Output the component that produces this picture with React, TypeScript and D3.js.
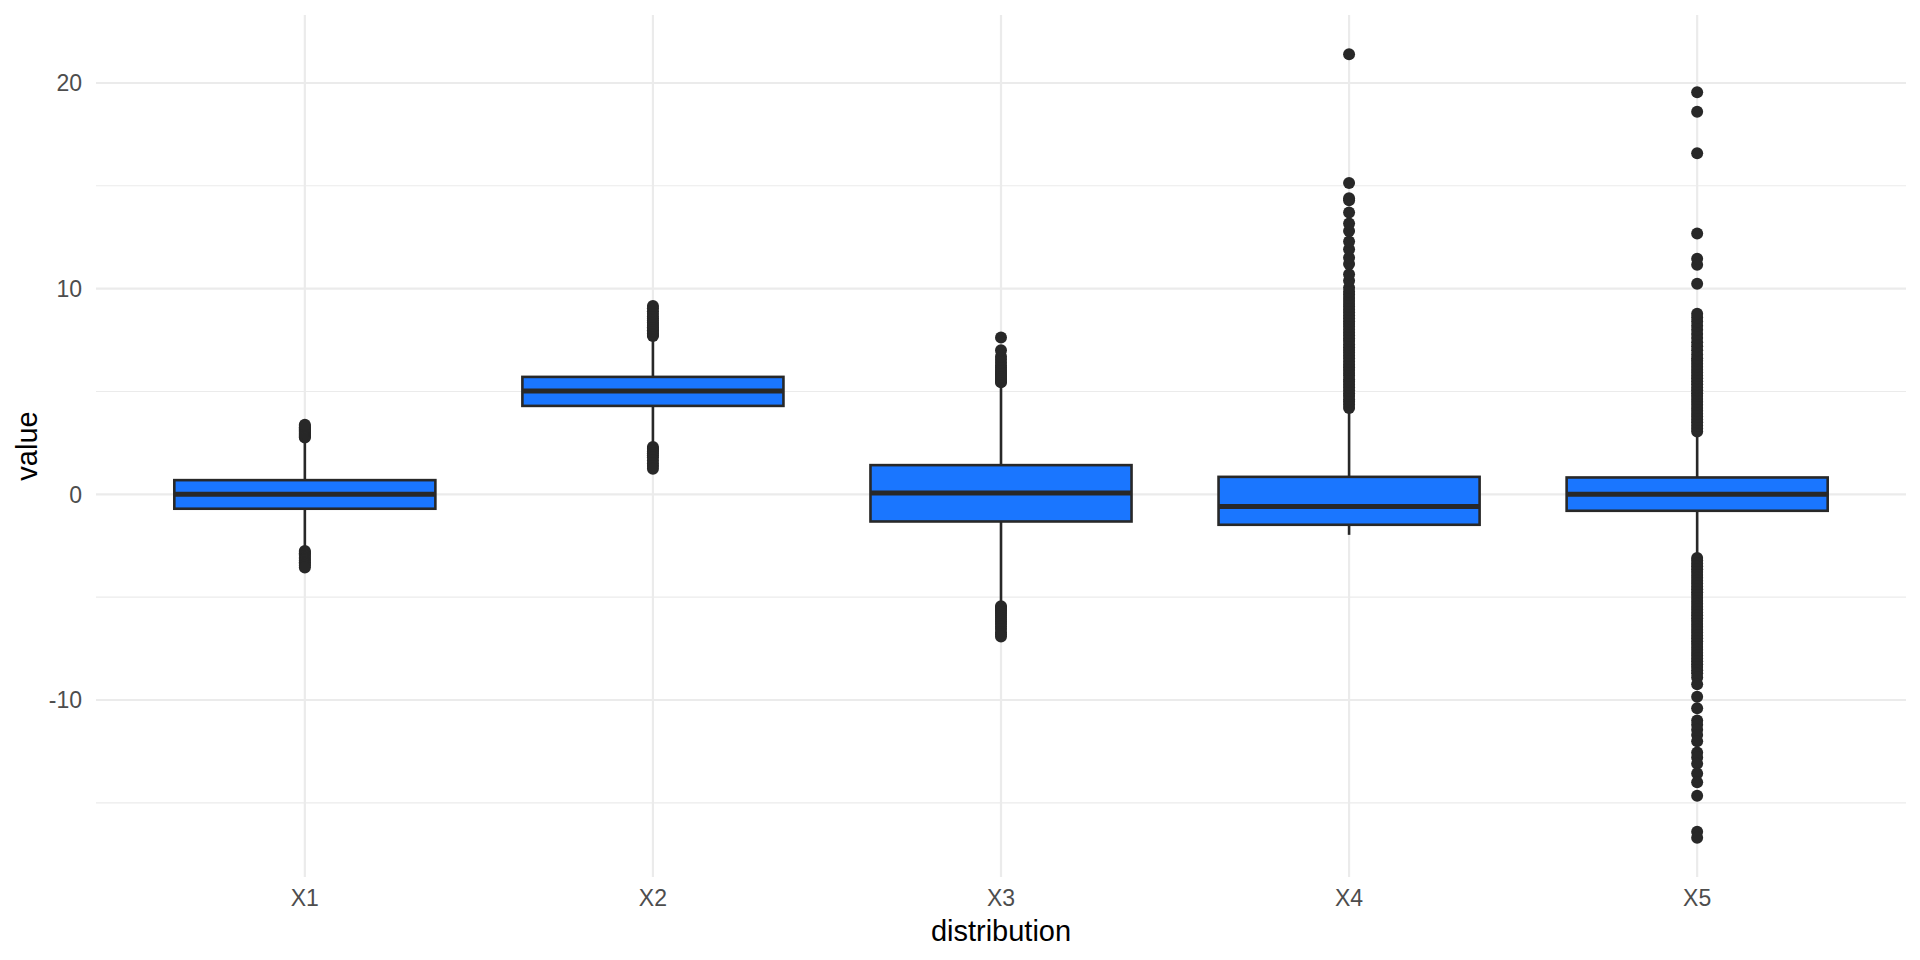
import React, { useEffect, useRef } from 'react';
import * as d3 from 'd3';

// box statistics
const categories = ['X1', 'X2', 'X3', 'X4', 'X5'];
const q1 = [-0.7, 4.3, -1.32, -1.48, -0.8];
const median = [0.01, 5.03, 0.06, -0.59, 0.01];
const q3 = [0.69, 5.71, 1.42, 0.85, 0.82];
const whiskerLow = [-2.7, 2.4, -5.4, -1.97, -3.05];
const whiskerHigh = [2.7, 7.6, 5.4, 4.15, 3.0];

const outliersX1 = [
  2.76, 2.8, 2.85, 2.9, 2.95, 3.0, 3.05, 3.1, 3.15, 3.2, 3.26, 3.32, 3.38,
  -2.75, -2.8, -2.86, -2.92, -3.0, -3.08, -3.15, -3.22, -3.3, -3.38, -3.46, -3.56,
];
const outliersX2 = [
  7.7, 7.75, 7.82, 7.9, 7.98, 8.05, 8.12, 8.2, 8.28, 8.36, 8.45, 8.55, 8.65, 8.78, 8.9, 9.05, 9.16,
  2.3, 2.22, 2.15, 2.08, 2.0, 1.9, 1.8, 1.65, 1.5, 1.38, 1.24,
];
const outliersX3 = [
  5.45, 5.5, 5.58, 5.65, 5.72, 5.8, 5.88, 5.95, 6.05, 6.15, 6.25, 6.4, 6.55, 6.7, 7.0, 7.62,
  -5.44, -5.5, -5.58, -5.65, -5.72, -5.8, -5.9, -6.0, -6.1, -6.2, -6.3, -6.42, -6.55, -6.7, -6.8, -6.91,
];
const outliersX4 = [
  4.2, 4.35, 4.5, 4.62, 4.78, 4.9, 5.05, 5.2, 5.33, 5.47, 5.6, 5.76, 5.9, 6.04, 6.18, 6.3,
  6.45, 6.6, 6.74, 6.88, 7.02, 7.15, 7.3, 7.45, 7.58, 7.72, 7.86, 8.0, 8.15, 8.28, 8.42,
  8.56, 8.7, 8.84, 8.98, 9.12, 9.26, 9.4, 9.55, 9.7, 9.85, 10.05, 10.38, 10.7, 11.2, 11.5,
  11.92, 12.29, 12.8, 13.17, 13.7, 14.3, 14.4, 15.14, 21.4,
];
const outliersX5 = [
  3.05, 3.2, 3.35, 3.5, 3.64, 3.78, 3.92, 4.06, 4.2, 4.35, 4.5, 4.64, 4.78, 4.92, 5.06,
  5.2, 5.35, 5.5, 5.64, 5.78, 5.92, 6.06, 6.2, 6.35, 6.5, 6.62, 6.8, 7.0, 7.2, 7.4, 7.6,
  7.8, 8.0, 8.2, 8.4, 8.6, 8.78, 10.24, 11.16, 11.46, 12.68, 16.58, 18.6, 19.55,
  -3.09, -3.22, -3.36, -3.5, -3.64, -3.78, -3.92, -4.06, -4.2, -4.34, -4.48, -4.62, -4.76,
  -4.9, -5.04, -5.18, -5.32, -5.46, -5.6, -5.74, -5.88, -6.02, -6.16, -6.3, -6.44, -6.58,
  -6.72, -6.86, -7.0, -7.14, -7.28, -7.42, -7.56, -7.7, -7.84, -7.98, -8.12, -8.26, -8.4,
  -8.55, -8.7, -8.9, -9.23, -9.84, -10.4, -11.0, -11.2, -11.45, -11.7, -12.0, -12.55,
  -12.8, -13.1, -13.57, -14.0, -14.66, -16.4, -16.7,
];
const outliers = [outliersX1, outliersX2, outliersX3, outliersX4, outliersX5];

const yTicks = [-10, 0, 10, 20];
const yMinorTicks = [-15, -5, 5, 15];

const BoxChart = () => {
  const chartRef = useRef<SVGSVGElement | null>(null);

  useEffect(() => {
    const svgWidth = 1920;
    const svgHeight = 960;
    const panel = { left: 96, right: 1906, top: 15, bottom: 877 };
    const font = '"Liberation Sans", Arial, Helvetica, sans-serif';

    const svg = d3.select(chartRef.current);
    svg.attr('width', svgWidth).attr('height', svgHeight);

    const allValues = outliers.flat().concat(whiskerLow, whiskerHigh);
    const lo = d3.min(allValues) as number;
    const hi = d3.max(allValues) as number;
    const pad = (hi - lo) * 0.05;

    const y = d3
      .scaleLinear()
      .domain([lo - pad, hi + pad])
      .range([panel.bottom, panel.top]);

    const x = d3
      .scalePoint<string>()
      .domain(categories)
      .range([panel.left, panel.right])
      .padding(0.6);

    const boxWidth = x.step() * 0.75;
    const grid = svg.append('g');

    // minor gridlines
    grid
      .selectAll('.minor')
      .data(yMinorTicks)
      .enter()
      .append('line')
      .attr('x1', panel.left)
      .attr('x2', panel.right)
      .attr('y1', (d) => y(d))
      .attr('y2', (d) => y(d))
      .attr('stroke', '#ebebeb')
      .attr('stroke-width', 1.1);

    // major gridlines
    grid
      .selectAll('.major')
      .data(yTicks)
      .enter()
      .append('line')
      .attr('x1', panel.left)
      .attr('x2', panel.right)
      .attr('y1', (d) => y(d))
      .attr('y2', (d) => y(d))
      .attr('stroke', '#ebebeb')
      .attr('stroke-width', 2.2);

    grid
      .selectAll('.vmajor')
      .data(categories)
      .enter()
      .append('line')
      .attr('x1', (d) => x(d) as number)
      .attr('x2', (d) => x(d) as number)
      .attr('y1', panel.top)
      .attr('y2', panel.bottom)
      .attr('stroke', '#ebebeb')
      .attr('stroke-width', 2.2);

    // y tick labels
    svg
      .selectAll('.ylab')
      .data(yTicks)
      .enter()
      .append('text')
      .attr('x', 82)
      .attr('y', (d) => y(d))
      .attr('dy', '0.36em')
      .attr('text-anchor', 'end')
      .style('font-family', font)
      .style('font-size', '23px')
      .attr('fill', '#4d4d4d')
      .text((d) => d3.format('d')(d).replace('−', '-'));

    // x tick labels
    svg
      .selectAll('.xlab')
      .data(categories)
      .enter()
      .append('text')
      .attr('x', (d) => x(d) as number)
      .attr('y', 906)
      .attr('text-anchor', 'middle')
      .style('font-family', font)
      .style('font-size', '23px')
      .attr('fill', '#4d4d4d')
      .text((d) => d);

    // axis titles
    svg
      .append('text')
      .attr('x', (panel.left + panel.right) / 2)
      .attr('y', 941)
      .attr('text-anchor', 'middle')
      .style('font-family', font)
      .style('font-size', '29px')
      .attr('fill', '#000')
      .text('distribution');

    svg
      .append('text')
      .attr('transform', `translate(37,${(panel.top + panel.bottom) / 2}) rotate(-90)`)
      .attr('text-anchor', 'middle')
      .style('font-family', font)
      .style('font-size', '29px')
      .attr('fill', '#000')
      .text('value');

    const ink = '#282828';

    const boxes = svg
      .selectAll('.box')
      .data(categories)
      .enter()
      .append('g')
      .attr('class', 'box');

    // whiskers
    boxes
      .append('line')
      .attr('x1', (d) => x(d) as number)
      .attr('x2', (d) => x(d) as number)
      .attr('y1', (d, i) => y(q3[i]))
      .attr('y2', (d, i) => y(whiskerHigh[i]))
      .attr('stroke', ink)
      .attr('stroke-width', 2.6);

    boxes
      .append('line')
      .attr('x1', (d) => x(d) as number)
      .attr('x2', (d) => x(d) as number)
      .attr('y1', (d, i) => y(q1[i]))
      .attr('y2', (d, i) => y(whiskerLow[i]))
      .attr('stroke', ink)
      .attr('stroke-width', 2.6);

    // outliers
    boxes.each(function (d, i) {
      d3.select(this)
        .selectAll('circle')
        .data(outliers[i])
        .enter()
        .append('circle')
        .attr('cx', x(d) as number)
        .attr('cy', (v) => y(v))
        .attr('r', 6)
        .attr('fill', ink);
    });

    // boxes
    boxes
      .append('rect')
      .attr('x', (d) => (x(d) as number) - boxWidth / 2)
      .attr('width', boxWidth)
      .attr('y', (d, i) => y(q3[i]))
      .attr('height', (d, i) => y(q1[i]) - y(q3[i]))
      .attr('fill', '#1a76ff')
      .attr('stroke', ink)
      .attr('stroke-width', 2.6);

    // medians
    boxes
      .append('line')
      .attr('x1', (d) => (x(d) as number) - boxWidth / 2)
      .attr('x2', (d) => (x(d) as number) + boxWidth / 2)
      .attr('y1', (d, i) => y(median[i]))
      .attr('y2', (d, i) => y(median[i]))
      .attr('stroke', ink)
      .attr('stroke-width', 5);

    return () => {
      svg.selectAll('*').remove();
    };
  }, []);

  return (
    <svg
      ref={chartRef}
      style={{ position: 'fixed', top: 0, left: 0, background: '#fff', display: 'block' }}
    />
  );
};

export default function App() {
  return <BoxChart />;
}
